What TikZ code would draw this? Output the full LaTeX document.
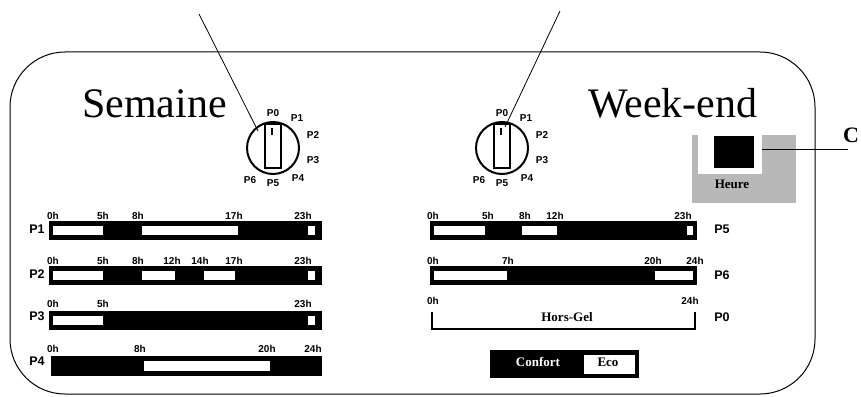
\documentclass[tikz,border=0pt]{standalone}
\usepackage{fontspec}
\setmainfont{Liberation Serif}
\setsansfont{Liberation Sans}
\tikzset{
  hour/.style={font=\sffamily\bfseries\fontsize{10}{10}\selectfont,inner sep=2pt},
  prog/.style={font=\sffamily\bfseries\fontsize{12.5}{12.5}\selectfont},
  dialp/.style={font=\sffamily\bfseries\fontsize{10}{10}\selectfont},
  titre/.style={font=\fontsize{42}{42}\selectfont,anchor=base west,inner sep=0pt},
  legende/.style={font=\bfseries\fontsize{13}{13}\selectfont},
}
\begin{document}
\begin{tikzpicture}[x=1pt,y=-1pt]
\useasboundingbox (0,0) rectangle (861,396);
\draw[line width=1pt,rounded corners=55pt] (10,52) rectangle (815,394);
\node[titre] (sem) at (82,117) {Semaine};
\node[titre] (we) at (588,117) {Week-end};

% selecteurs
\foreach \c/\n in {273/s,502/w}{
  \draw[line width=2pt] (\c,148) circle (26pt);
  \draw[line width=1.5pt] (\c-8,124) rectangle (\c+8,168);
  \draw[line width=1.2pt] (\c-1,128)--(\c-1,135);
  \node[dialp] (\n0) at (\c,113) {P0};
  \node[dialp] (\n1) at (\c+24,118) {P1};
  \node[dialp] (\n2) at (\c+40,135) {P2};
  \node[dialp] (\n3) at (\c+40,160) {P3};
  \node[dialp] (\n4) at (\c+25,178) {P4};
  \node[dialp] (\n5) at (\c,183) {P5};
  \node[dialp] (\n6) at (\c-23,180) {P6};
}
\coordinate (ls) at (258,131);
\coordinate (lw) at (505,127);
\draw[line width=0.8pt] (199,14)--(ls);
\draw[line width=0.8pt] (560,11)--(lw);

% horloge
\fill[black!28] (692,135) rectangle (796,203);
\fill[white] (698,135) rectangle (762,174);
\fill (714,136) rectangle (754,168);
\node[legende] (heure) at (732,184) {Heure};
\coordinate (hc) at (762,149);
\node[font=\bfseries\fontsize{22}{22}\selectfont,anchor=west,inner sep=0pt] (c) at (843,135) {C};
\draw[line width=0.8pt] (hc)--(848,149);

% programmes semaine
\fill (49,221) rectangle (322,240);
\foreach \a/\b in {53/103,142/238,308/315} \fill[white] (\a,226) rectangle (\b,235);
\foreach \x/\t in {53/0h,103/5h,138/8h,234/17h,303/23h} \node[hour,above] (a\t) at (\x,222) {\t};
\node[prog] (p1) at (37,229) {P1};

\fill (49,266) rectangle (322,285);
\foreach \a/\b in {53/103,142/175,204/235,308/315} \fill[white] (\a,271) rectangle (\b,280);
\foreach \x/\t in {53/0h,103/5h,138/8h,172/12h,200/14h,234/17h,303/23h} \node[hour,above] (b\t) at (\x,267) {\t};
\node[prog] (p2) at (37,274) {P2};

\fill (49,311) rectangle (322,330);
\foreach \a/\b in {53/103,308/315} \fill[white] (\a,316) rectangle (\b,325);
\foreach \x/\t in {53/0h,103/5h,303/23h} \node[hour,above] (c\t) at (\x,310) {\t};
\node[prog] (p3) at (37,316) {P3};

\fill (51,356) rectangle (322,376);
\fill[white] (144,361) rectangle (270,371);
\foreach \x/\t in {53/0h,140/8h,267/20h,313/24h} \node[hour,above] (d\t) at (\x,355) {\t};
\node[prog] (p4) at (37,361) {P4};

% programmes week-end
\fill (430,221) rectangle (697,240);
\foreach \a/\b in {434/485,522/557,687/693} \fill[white] (\a,226) rectangle (\b,235);
\foreach \x/\t in {433/0h,488/5h,525/8h,555/12h,683/23h} \node[hour,above] (e\t) at (\x,222) {\t};
\node[prog] (p5) at (722,229) {P5};

\fill (430,266) rectangle (697,285);
\foreach \a/\b in {434/507,655/693} \fill[white] (\a,271) rectangle (\b,280);
\foreach \x/\t in {433/0h,508/7h,653/20h,695/24h} \node[hour,above] (f\t) at (\x,267) {\t};
\node[prog] (p6) at (722,275) {P6};

\draw[line width=2.5pt] (432,312)--(432,329)--(695,329)--(695,312);
\foreach \x/\t in {433/0h,690/24h} \node[hour,above] (g\t) at (\x,307) {\t};
\node[legende] (hg) at (567,317) {Hors-Gel};
\node[prog] (p0) at (722,317) {P0};

% legende
\fill (490,350) rectangle (639,378);
\fill[white] (584,355) rectangle (635,374);
\node[legende,text=white] (conf) at (538,362) {Confort};
\node[legende] (eco) at (608,362) {Eco};
\end{tikzpicture}
\end{document}
